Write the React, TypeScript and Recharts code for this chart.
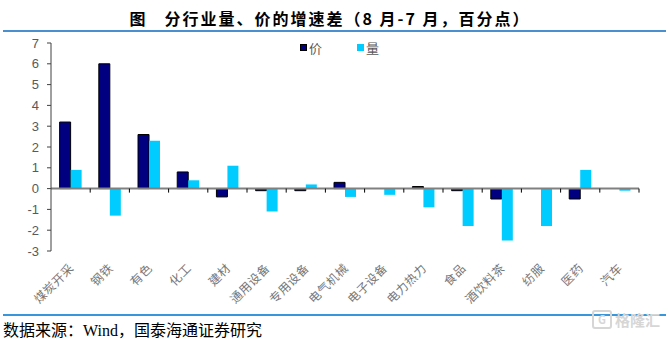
import { BarChart, Bar, XAxis, YAxis, ReferenceLine } from 'recharts'

const categories = [
  '煤炭开采', '钢铁', '有色', '化工', '建材', '通用设备', '专用设备', '电气机械',
  '电子设备', '电力热力', '食品', '酒饮料茶', '纺服', '医药', '汽车',
]
const priceDiff  = [3.2, 6.0, 2.6, 0.8, -0.4, -0.1, -0.1, 0.3, 0, 0.1, -0.1, -0.5, 0, -0.5, 0]
const volumeDiff = [0.9, -1.3, 2.3, 0.4, 1.1, -1.1, 0.2, -0.4, -0.3, -0.9, -1.8, -2.5, -1.8, 0.9, -0.1]
const yTicks = [-3, -2, -1, 0, 1, 2, 3, 4, 5, 6, 7]

const series = [
  { key: 'price',  name: '价', fill: '#000080', stroke: '#000000' },
  { key: 'volume', name: '量', fill: '#00CCFF', stroke: 'none' },
]

const data = categories.map((c, i) => ({ cat: c, price: priceDiff[i], volume: volumeDiff[i] }))

const cjk = '"Noto Sans CJK SC", sans-serif'

function CatTick(props: any) {
  const { x, y, payload } = props
  return (
    <g transform={`translate(${x + 4},${y + 10})`}>
      <text textAnchor="end" transform="rotate(-45)" fontSize={12} fill="#777" fontFamily={cjk} letterSpacing={0.5}>
        {payload.value}
      </text>
    </g>
  )
}

// zero line with the little boundary ticks between categories
function ZeroLine(props: any) {
  const { x1, x2, y1 } = props
  const n = categories.length
  const step = (x2 - x1) / n
  return (
    <g>
      <line x1={x1} x2={x2} y1={y1} y2={y1} stroke="#808080" strokeWidth={2} />
      {categories.map((_, i) => (
        <line key={i} x1={x1 + step * (i + 1)} x2={x1 + step * (i + 1)} y1={y1} y2={y1 + 4} stroke="#000" strokeWidth={1} />
      ))}
    </g>
  )
}

export default function App() {
  return (
    <div style={{ position: 'absolute', left: 0, top: 0, width: 669, height: 339, background: '#fff', overflow: 'hidden' }}>
      <div style={{
        position: 'absolute', top: 6, left: 0, width: 660, textAlign: 'center',
        fontFamily: cjk, fontWeight: 700, fontSize: 16, letterSpacing: 2, color: '#000', whiteSpace: 'pre',
      }}>
        图   分行业量、价的增速差（8 月-7 月，百分点）
      </div>
      <div style={{ position: 'absolute', top: 30, left: 3, width: 663, height: 2, background: '#4a90d0' }} />

      <BarChart
        width={669}
        height={339}
        data={data}
        margin={{ top: 43, right: 30, left: 0, bottom: 28 }}
        barCategoryGap="22%"
        barGap={0}
      >
        <XAxis
          dataKey="cat"
          interval={0}
          axisLine={false}
          tickLine={false}
          height={60}
          tick={<CatTick />}
        />
        <YAxis
          domain={[-3, 7]}
          ticks={yTicks}
          interval={0}
          width={51}
          tickSize={4}
          tickMargin={8}
          stroke="#404040"
          tick={{ fontSize: 13, fill: '#595959', fontFamily: '"Liberation Sans", Arial, sans-serif' }}
          axisLine={{ stroke: '#404040' }}
          tickLine={{ stroke: '#404040' }}
        />
        {series.map(s => (
          <Bar key={s.key} dataKey={s.key} name={s.name} fill={s.fill} stroke={s.stroke} strokeWidth={1} isAnimationActive={false} />
        ))}
        <ReferenceLine y={0} shape={<ZeroLine />} />
      </BarChart>

      <div style={{ position: 'absolute', top: 38, left: 300, display: 'flex', gap: 35, fontFamily: cjk, fontSize: 13, color: '#595959' }}>
        {series.map(s => (
          <div key={s.key} style={{ display: 'flex', alignItems: 'center' }}>
            <span style={{
              width: 7, height: 7, background: s.fill, marginRight: 2, boxSizing: 'border-box',
              border: s.stroke === 'none' ? 'none' : `1px solid ${s.stroke}`,
            }} />
            <span>{s.name}</span>
          </div>
        ))}
      </div>

      <div style={{ position: 'absolute', top: 314, left: 3, width: 663, height: 2, background: '#3a96dc' }} />
      <div style={{ position: 'absolute', top: 317, left: 3, fontFamily: '"Liberation Serif", ' + cjk, fontSize: 16, color: '#000', whiteSpace: 'nowrap' }}>
        数据来源：Wind，国泰海通证券研究
      </div>
      <div style={{ position: 'absolute', top: 309, left: 592, display: 'flex', alignItems: 'center', gap: 3, color: '#d6d6d6', fontFamily: cjk, fontSize: 15, fontWeight: 700 }}>
        <span style={{ border: '2px solid #d6d6d6', borderRadius: 3, width: 16, height: 15, fontSize: 11, lineHeight: '15px', textAlign: 'center' }}>G</span>
        <span>格隆汇</span>
      </div>
    </div>
  )
}
